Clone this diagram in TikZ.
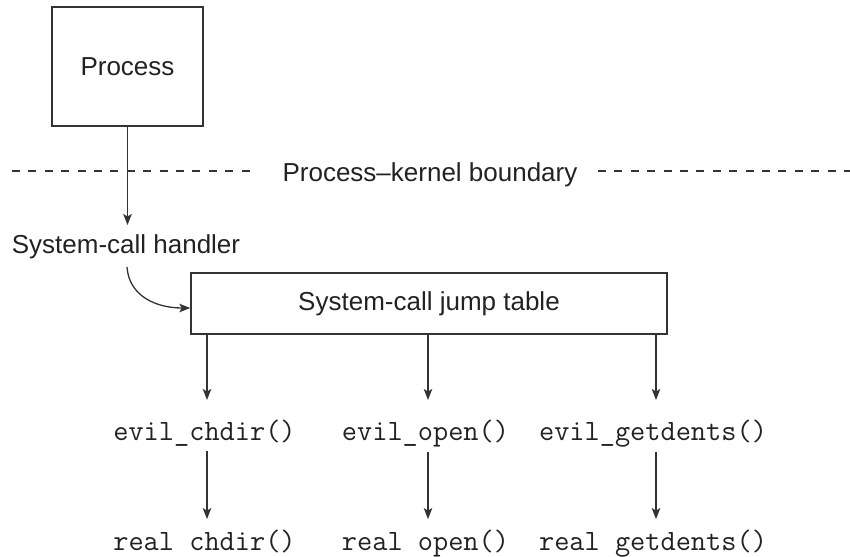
\documentclass[tikz,border=0pt]{standalone}
\usepackage{fontspec}
\setmainfont{Liberation Sans}
\usetikzlibrary{arrows.meta}
\definecolor{ink}{HTML}{222222}
\definecolor{rule}{HTML}{333333}
\begin{document}
\begin{tikzpicture}[x=1pt,y=-1pt,
  every node/.style={text=ink},
  label/.style={font=\fontsize{26}{30}\selectfont, inner sep=0pt, anchor=base},
  code/.style={font=\ttfamily\fontsize{29.5}{32}\selectfont, inner sep=0pt, anchor=base},
  box/.style={draw=rule, line width=1.4pt, font=\fontsize{26}{30}\selectfont, inner sep=0pt},
  arr/.style={draw=rule, line width=1.3pt, -{Stealth[length=11pt,width=8.5pt,inset=2.5pt]}},
  boundary/.style={draw=rule, line width=1.1pt, dash pattern=on 8pt off 8.4pt}]
\useasboundingbox (0,0) rectangle (850,556);

% user side
\node[box, minimum width=151pt, minimum height=119pt] (proc) at (127.5,66.5) {Process};

% boundary between process and kernel
\node[label] (bound) at (430,182) {Process–kernel boundary};
\draw[boundary] (12,171) -- (257,171);
\draw[boundary] (598,171) -- (850,171);

% kernel side
\node[label] (handler) at (126,253) {System-call handler};
\node[box, minimum width=476pt, minimum height=61pt] (table) at (429,303.5) {System-call jump table};

\node[code] (e1) at (204.5,440) {evil\_chdir()};
\node[code] (e2) at (425.5,440) {evil\_open()};
\node[code] (e3) at (653,440) {evil\_getdents()};

\node[code] (r1) at (204.5,550) {real chdir()};
\node[code] (r2) at (425.5,550) {real open()};
\node[code] (r3) at (653,550) {real getdents()};

% connectors
\coordinate (ptip) at (127.5,225);
\draw[arr] (proc.south) -- (ptip);

\coordinate (hstart) at (127,267);
\draw[arr] (hstart) .. controls (129,296) and (156,308) .. ([yshift=-4.5pt]table.west);

\coordinate (t1) at (207,400);
\coordinate (t2) at (428,400);
\coordinate (t3) at (656,400);
\draw[arr] (table.south -| t1) -- (t1);
\draw[arr] (table.south -| t2) -- (t2);
\draw[arr] (table.south -| t3) -- (t3);

\draw[arr, shorten <=4.75pt, shorten >=10.25pt] (e1.south -| t1) -- (r1.north -| t1);
\draw[arr, shorten <=4.75pt, shorten >=10.25pt] (e2.south -| t2) -- (r2.north -| t2);
\draw[arr, shorten <=4.75pt, shorten >=10.25pt] (e3.south -| t3) -- (r3.north -| t3);
\end{tikzpicture}
\end{document}
